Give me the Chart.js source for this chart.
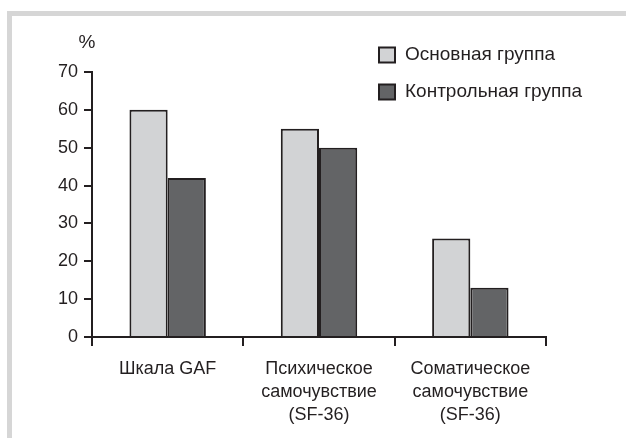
<!DOCTYPE html>
<html>
<head>
<meta charset="utf-8">
<script src="https://cdn.jsdelivr.net/npm/chart.js@4/dist/chart.umd.min.js"></script>
<style>
html,body{margin:0;padding:0;background:#fff;}
#wrap{position:relative;width:626px;height:438px;}
</style>
</head>
<body>
<div id="wrap"><canvas id="c" width="626" height="438"></canvas></div>
<script>
const categories = [["Шкала GAF"], ["Психическое", "самочувствие", "(SF-36)"], ["Соматическое", "самочувствие", "(SF-36)"]];
const seriesNames = ["Основная группа", "Контрольная группа"];
const mainGroup = [60, 55, 26];
const controlGroup = [42, 50, 13];
const yTicks = [0, 10, 20, 30, 40, 50, 60, 70];
const yUnit = "%";

const FONT = "'Liberation Sans', Arial, Helvetica, sans-serif";
const TEXT = "#231f20";
const EDGE = "#231f20";
const FILLS = ["#d2d3d5", "#636466"];

const framePlugin = {
  id: 'frame',
  beforeDraw(chart) {
    const ctx = chart.ctx;
    ctx.save();
    ctx.fillStyle = '#fff';
    ctx.fillRect(0, 0, chart.width, chart.height);
    ctx.fillStyle = '#d6d6d6';
    ctx.fillRect(7, 11, chart.width - 7, 5);
    ctx.fillRect(7, 11, 5, chart.height - 11);
    ctx.restore();
  },
  afterDraw(chart) {
    const ctx = chart.ctx;
    const ys = chart.scales.y;
    ctx.save();
    // unit label
    ctx.fillStyle = TEXT;
    ctx.font = "19px " + FONT;
    ctx.textAlign = 'center';
    ctx.textBaseline = 'middle';
    ctx.fillText(yUnit, 87, ys.getPixelForValue(70) - 29);
    // legend
    ctx.font = "19px " + FONT;
    ctx.textAlign = 'left';
    chart.data.datasets.forEach((ds, i) => {
      const cy = 54.5 + i * 37;
      ctx.fillStyle = ds.backgroundColor;
      ctx.fillRect(379, cy - 7, 16, 15);
      ctx.strokeStyle = EDGE;
      ctx.lineWidth = 2;
      ctx.strokeRect(379, cy - 7, 16, 15);
      ctx.fillStyle = TEXT;
      ctx.fillText(ds.label, 405, cy);
    });
    ctx.restore();
  }
};

new Chart(document.getElementById('c'), {
  type: 'bar',
  data: {
    labels: categories,
    datasets: [
      { label: seriesNames[0], data: mainGroup, backgroundColor: FILLS[0], borderColor: EDGE, borderWidth: 2, barPercentage: 1, categoryPercentage: 0.505 },
      { label: seriesNames[1], data: controlGroup, backgroundColor: FILLS[1], borderColor: EDGE, borderWidth: 2, barPercentage: 1, categoryPercentage: 0.505 }
    ]
  },
  options: {
    responsive: false,
    animation: false,
    devicePixelRatio: 1,
    layout: { padding: { left: 0, top: 72, right: 80, bottom: 0 } },
    plugins: { legend: { display: false }, tooltip: { enabled: false } },
    scales: {
      x: {
        afterFit(scale) { scale.height = 101; },
        grid: { display: true, drawOnChartArea: false, offset: true, tickLength: 9, color: EDGE, lineWidth: 2 },
        border: { display: true, color: EDGE, width: 2 },
        ticks: { color: TEXT, font: { family: FONT, size: 18, lineHeight: 1.26 }, padding: 12, maxRotation: 0, autoSkip: false }
      },
      y: {
        min: 0, max: 70,
        afterFit(scale) { scale.width = 92; },
        afterBuildTicks(scale) { scale.ticks = yTicks.map(v => ({ value: v })); },
        grid: { display: true, drawOnChartArea: false, tickLength: 8, color: EDGE, lineWidth: 2 },
        border: { display: true, color: EDGE, width: 2 },
        ticks: { color: TEXT, font: { family: FONT, size: 18 }, padding: 6 }
      }
    }
  },
  plugins: [framePlugin]
});
</script>
</body>
</html>
